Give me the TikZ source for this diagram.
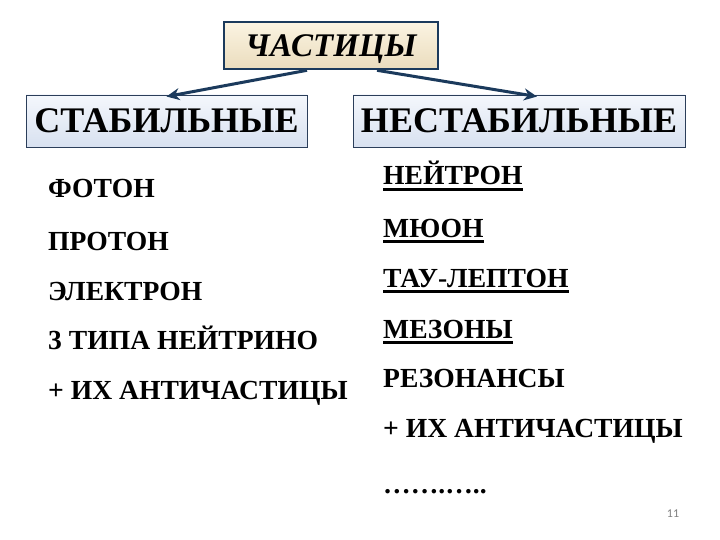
\documentclass[tikz,border=0pt]{standalone}
\usepackage{fontspec}
\setmainfont{Liberation Serif}
\newfontfamily\numfont{Carlito}
\usetikzlibrary{arrows.meta}
\definecolor{navy}{HTML}{1B3A5C}
\definecolor{creamtop}{HTML}{FBF4E2}
\definecolor{creambot}{HTML}{EADCBD}
\definecolor{bluetop}{HTML}{F4F7FC}
\definecolor{bluebot}{HTML}{D8E1F0}
\definecolor{boxline}{HTML}{2B3E5A}
\tikzset{
  topbox/.style={draw=navy, line width=2.6pt, top color=creamtop, bottom color=creambot,
    minimum width=214pt, minimum height=47pt, inner sep=0pt,
    font=\fontsize{33}{36}\selectfont\bfseries\itshape, text height=21.8pt, text depth=0pt},
  catbox/.style={draw=boxline, line width=0.9pt, top color=bluetop, bottom color=bluebot,
    minimum height=52pt, inner sep=0pt,
    font=\fontsize{36}{40}\selectfont\bfseries, text height=23.8pt, text depth=0pt},
  item/.style={anchor=base west, inner sep=0pt, font=\fontsize{27.6}{30}\selectfont\bfseries},
  ul/.style={line width=2.6pt, black},
  arr/.style={draw=navy, line width=3pt, -{Stealth[length=13pt,width=12pt]}}
}
\begin{document}
\begin{tikzpicture}[x=1pt,y=-1pt]
\useasboundingbox[fill=white] (0,0) rectangle (720,540);
\node[topbox] (top) at (331,45.5) {ЧАСТИЦЫ};
\node[catbox, minimum width=281pt] (stab) at (166.5,121) {СТАБИЛЬНЫЕ};
\node[catbox, minimum width=332pt] (unst) at (519,121) {НЕСТАБИЛЬНЫЕ};
\draw[arr] ([xshift=-24pt]top.south) -- ([yshift=-2pt]stab.north);
\draw[arr] ([xshift=46pt]top.south) -- ([xshift=18pt,yshift=-2pt]unst.north);
% left list
\node[item] (l1) at (48,198) {ФОТОН};
\node[item] (l2) at (48,250) {ПРОТОН};
\node[item] (l3) at (48,300) {ЭЛЕКТРОН};
\node[item] (l4) at (48,349) {3 ТИПА НЕЙТРИНО};
\node[item] (l5) at (48,399) {+ ИХ АНТИЧАСТИЦЫ};
% right list
\node[item] (r1) at (383,185) {НЕЙТРОН};
\node[item] (r2) at (383,237) {МЮОН};
\node[item] (r3) at (383,287) {ТАУ-ЛЕПТОН};
\node[item] (r4) at (383,338) {МЕЗОНЫ};
\node[item] (r5) at (383,387) {РЕЗОНАНСЫ};
\node[item] (r6) at (383,437) {+ ИХ АНТИЧАСТИЦЫ};
\node[item] (r7) at (383,493) {…….…..};
\foreach \n in {r1,r2,r3,r4}
  \draw[ul] ([yshift=-4.5pt]\n.base west) -- ([yshift=-4.5pt]\n.base east);
\node[font=\numfont\fontsize{12}{13}\selectfont, text=gray] (pg) at (673,514) {11};
\end{tikzpicture}
\end{document}
